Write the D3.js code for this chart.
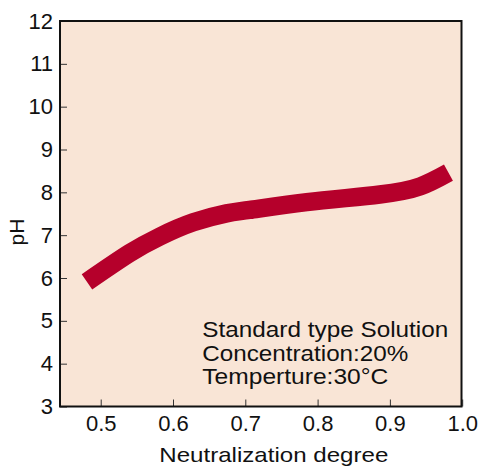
<!DOCTYPE html>
<html>
<head>
<meta charset="utf-8">
<script src="https://cdn.jsdelivr.net/npm/d3@7"></script>
<style>
  html, body { margin: 0; padding: 0; background: #ffffff; }
  svg { display: block; }
  text { font-family: "Liberation Sans", Arial, Helvetica, sans-serif; fill: #111; }
</style>
</head>
<body>
<svg id="chart" width="483" height="467"></svg>
<script>
// ---- data ----
const neutralization = [0.481, 0.540, 0.582, 0.628, 0.674, 0.706, 0.785, 0.886, 0.942, 0.981];
const phValues       = [5.91, 6.58, 6.97, 7.30, 7.51, 7.59, 7.77, 7.95, 8.14, 8.46];
const xTickValues = [0.5, 0.6, 0.7, 0.8, 0.9, 1.0];
const xTickLabels = ["0.5", "0.6", "0.7", "0.8", "0.9", "1.0"];
const yTickValues = [3, 4, 5, 6, 7, 8, 9, 10, 11, 12];
const annotationLines = ["Standard type Solution", "Concentration:20%", "Temperture:30\u00B0C"];
const xTitle = "Neutralization degree";
const yTitle = "pH";

// ---- layout ----
const mLeft = 60, mRight = 461.5, mTop = 21, mBottom = 406.5;
const svg = d3.select("#chart");

const x = d3.scaleLinear().domain([0.4437, 1.0]).range([mLeft, 462.2]);
const y = d3.scaleLinear().domain([3, 12]).range([mBottom, mTop]);

// background
svg.append("rect")
  .attr("x", mLeft).attr("y", mTop)
  .attr("width", mRight - mLeft).attr("height", mBottom - mTop)
  .attr("fill", "#f9e5d6");

// curve
const pts = neutralization.map((v, i) => [v, phValues[i]]);
const line = d3.line()
  .x(d => x(d[0]))
  .y(d => y(d[1]))
  .curve(d3.curveNatural);

svg.append("path")
  .datum(pts)
  .attr("d", line)
  .attr("fill", "none")
  .attr("stroke", "#b5002b")
  .attr("stroke-width", 18.5)
  .attr("stroke-linecap", "butt");

// y axis (ticks inward)
const yAxis = d3.axisLeft(y).tickValues(yTickValues).tickSize(-7).tickFormat(d3.format("d"));
const gy = svg.append("g").attr("transform", `translate(${mLeft},0)`).call(yAxis);
gy.select(".domain").remove();
gy.selectAll(".tick line").attr("stroke", "#333").attr("stroke-width", 1);
gy.selectAll(".tick text")
  .attr("x", -7)
  .attr("font-size", 22)
  .attr("fill", "#111")
  .attr("font-family", "Liberation Sans, Arial, sans-serif");

// x axis (ticks inward)
const xAxis = d3.axisBottom(x).tickValues(xTickValues).tickSize(-7)
  .tickFormat((d, i) => xTickLabels[i]);
const gx = svg.append("g").attr("transform", `translate(0,${mBottom})`).call(xAxis);
gx.select(".domain").remove();
gx.selectAll(".tick line").attr("stroke", "#333").attr("stroke-width", 1);
gx.selectAll(".tick text")
  .attr("y", 24.5)
  .attr("dy", null)
  .attr("font-size", 22)
  .attr("fill", "#111")
  .attr("font-family", "Liberation Sans, Arial, sans-serif");

// frame
svg.append("rect")
  .attr("x", mLeft).attr("y", mTop)
  .attr("width", mRight - mLeft).attr("height", mBottom - mTop)
  .attr("fill", "none")
  .attr("stroke", "#111")
  .attr("stroke-width", 2);

// axis titles
svg.append("text")
  .attr("x", 273.8).attr("y", 461.5)
  .attr("text-anchor", "middle")
  .attr("font-size", 21)
  .attr("textLength", 229)
  .attr("lengthAdjust", "spacingAndGlyphs")
  .text(xTitle);

svg.append("text")
  .attr("transform", "translate(24,232) rotate(-90)")
  .attr("text-anchor", "middle")
  .attr("font-size", 21)
  .text(yTitle);

// annotation
const annBaselines = [336.7, 360.7, 384];
const annWidths = [246, 206, 186];
svg.append("g").selectAll("text")
  .data(annotationLines)
  .join("text")
  .attr("x", 202.3)
  .attr("y", (d, i) => annBaselines[i])
  .attr("font-size", 22.5)
  .attr("textLength", (d, i) => annWidths[i])
  .attr("lengthAdjust", "spacingAndGlyphs")
  .text(d => d);
</script>
</body>
</html>
